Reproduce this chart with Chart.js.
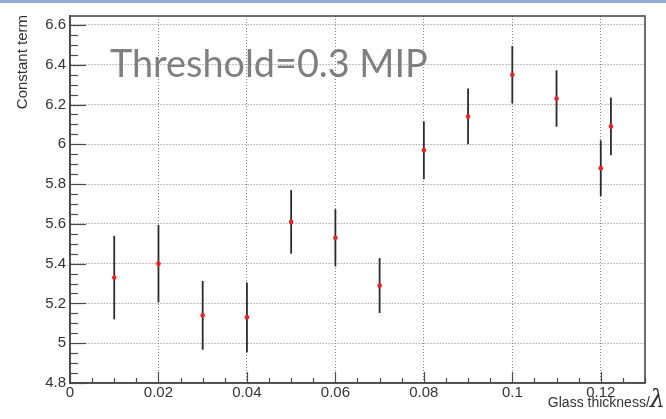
<!DOCTYPE html>
<html>
<head>
<meta charset="utf-8">
<title>Constant term vs glass thickness</title>
<script src="https://cdn.jsdelivr.net/npm/chart.js@4.4.1/dist/chart.umd.min.js"></script>
<style>
    html, body { margin: 0; padding: 0; background: #fff; }
    #wrap { position: relative; width: 666px; height: 419px; }
    #topbar { position: absolute; left: 0; top: 0; width: 666px; height: 3px; background: #8FAADC; }
</style>
</head>
<body>
<div id="wrap">
    <canvas id="c"></canvas>
    <div id="topbar"></div>
</div>
<script>
// Glass thickness (in interaction lengths) and fitted constant term with errors
const thickness = [0.01, 0.02, 0.03, 0.04, 0.05, 0.06, 0.07, 0.08, 0.09, 0.10, 0.11, 0.12, 0.1223];
const constTerm = [5.33, 5.40, 5.14, 5.13, 5.61, 5.53, 5.29, 5.97, 6.14, 6.35, 6.23, 5.88, 6.09];
const constErr  = [0.21, 0.195, 0.173, 0.175, 0.16, 0.144, 0.138, 0.145, 0.14, 0.144, 0.142, 0.14, 0.145];

const xTicks = [0, 0.02, 0.04, 0.06, 0.08, 0.10, 0.12];
const yTicks = [4.8, 5.0, 5.2, 5.4, 5.6, 5.8, 6.0, 6.2, 6.4, 6.6];
const xMinorStep = 0.005;
const yMinorStep = 0.05;

const annotationText = "Threshold=0.3 MIP";
const yTitle = "Constant term";
const xTitle = "Glass thickness/";
const xTitleSymbol = "λ";

const AXIS_COLOR = "#4a4a4a";
const TEXT_COLOR = "#333";
const GRID_COLOR = "#808080";
const ROOT_FONT = "'Liberation Sans', Arial, sans-serif";

const fmt = v => String(+v.toFixed(3));

// ROOT-like frame: inward tick marks, full box, error bars and titles
const rootFrame = {
    id: "rootFrame",
    beforeDatasetsDraw(chart) {
        const { ctx, scales: { x, y } } = chart;
        ctx.save();
        ctx.strokeStyle = "#2b2b2b";
        ctx.lineWidth = 1.8;
        constTerm.forEach((v, i) => {
            const px = x.getPixelForValue(thickness[i]);
            ctx.beginPath();
            ctx.moveTo(px, y.getPixelForValue(v - constErr[i]));
            ctx.lineTo(px, y.getPixelForValue(v + constErr[i]));
            ctx.stroke();
        });
        ctx.restore();
    },
    afterDraw(chart) {
        const { ctx, chartArea: a, scales: { x, y } } = chart;
        ctx.save();
        ctx.strokeStyle = AXIS_COLOR;

        // frame
        ctx.lineWidth = 1.6;
        ctx.strokeRect(a.left, a.top, a.right - a.left, a.bottom - a.top);

        // y ticks
        ctx.lineWidth = 1.2;
        for (let v = y.min; v <= y.max + 1e-9; v += yMinorStep) {
            const major = yTicks.some(t => Math.abs(t - v) < 1e-6);
            const py = Math.round(y.getPixelForValue(v)) + 0.5;
            ctx.beginPath();
            ctx.moveTo(a.left, py);
            ctx.lineTo(a.left + (major ? 16 : 8), py);
            ctx.stroke();
        }
        // x ticks
        for (let v = x.min; v <= x.max + 1e-9; v += xMinorStep) {
            const major = xTicks.some(t => Math.abs(t - v) < 1e-6);
            const px = Math.round(x.getPixelForValue(v)) + 0.5;
            ctx.beginPath();
            ctx.moveTo(px, a.bottom);
            ctx.lineTo(px, a.bottom - (major ? 11 : 5));
            ctx.stroke();
        }

        // y title, rotated, flush with the top of the frame
        ctx.fillStyle = TEXT_COLOR;
        ctx.font = "15px " + ROOT_FONT;
        ctx.translate(27, a.top - 1);
        ctx.rotate(-Math.PI / 2);
        ctx.textAlign = "right";
        ctx.textBaseline = "alphabetic";
        ctx.fillText(yTitle, 0, 0);
        ctx.setTransform(1, 0, 0, 1, 0, 0);

        // x title with the lambda symbol
        ctx.font = "italic 24px 'DejaVu Serif', 'Liberation Serif', serif";
        const lw = ctx.measureText(xTitleSymbol).width;
        ctx.textAlign = "right";
        ctx.fillText(xTitleSymbol, chart.width - 1, 407);
        ctx.font = "14px " + ROOT_FONT;
        ctx.fillText(xTitle, chart.width - 1 - lw, 407);

        // threshold note
        ctx.fillStyle = "#7f7f7f";
        ctx.textAlign = "left";
        let size = 38;
        ctx.font = size + "px Lato, 'Open Sans', sans-serif";
        size = size * 318 / ctx.measureText(annotationText).width;
        ctx.font = size.toFixed(1) + "px Lato, 'Open Sans', sans-serif";
        ctx.fillText(annotationText, a.left + 40, 77);
        ctx.restore();
    }
};

const points = thickness.map((t, i) => ({ x: t, y: constTerm[i] }));

new Chart(document.getElementById("c"), {
    type: "scatter",
    data: {
        datasets: [{
            data: points,
            pointStyle: "circle",
            pointRadius: 2.3,
            pointHoverRadius: 2.3,
            borderWidth: 0,
            backgroundColor: "#ff1a1a"
        }]
    },
    options: {
        responsive: true,
        maintainAspectRatio: false,
        animation: false,
        events: [],
        layout: { padding: { top: 16, right: 21, left: 0, bottom: 0 } },
        plugins: { legend: { display: false }, tooltip: { enabled: false } },
        scales: {
            x: {
                type: "linear",
                min: 0,
                max: 0.13,
                afterBuildTicks: s => { s.ticks = xTicks.map(v => ({ value: v })); },
                afterFit: s => { s.height = 36; },
                grid: { color: GRID_COLOR, lineWidth: 1, drawTicks: false },
                border: { display: true, color: AXIS_COLOR, width: 1.6, dash: [1, 2] },
                ticks: {
                    color: TEXT_COLOR,
                    font: { family: ROOT_FONT, size: 15 },
                    padding: 1,
                    maxRotation: 0,
                    autoSkip: false,
                    callback: v => fmt(v)
                }
            },
            y: {
                type: "linear",
                min: 4.8,
                max: 6.645,
                afterBuildTicks: s => { s.ticks = yTicks.map(v => ({ value: v })); },
                afterFit: s => { s.width = 70; },
                grid: { color: GRID_COLOR, lineWidth: 1, drawTicks: false },
                border: { display: true, color: AXIS_COLOR, width: 1.6, dash: [1, 2] },
                ticks: {
                    color: TEXT_COLOR,
                    font: { family: ROOT_FONT, size: 15 },
                    padding: 4,
                    autoSkip: false,
                    callback: v => fmt(v)
                }
            }
        }
    },
    plugins: [rootFrame]
});
</script>
</body>
</html>
